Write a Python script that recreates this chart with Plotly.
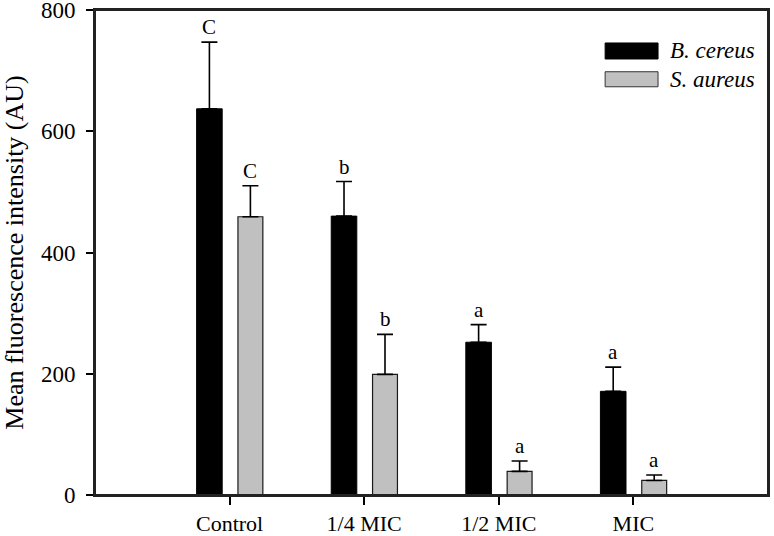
import plotly.graph_objects as go

categories = ["Control", "1/4 MIC", "1/2 MIC", "MIC"]
b_cereus = [637, 460, 252, 171]
b_cereus_err = [110, 57, 29, 40]
s_aureus = [459, 199, 39, 24]
s_aureus_err = [51, 66, 17, 9]
b_letters = ["C", "b", "a", "a"]
s_letters = ["C", "b", "a", "a"]
series_names = ["B. cereus", "S. aureus"]

xpos = list(range(len(categories)))
FONT = "Liberation Serif, Times New Roman, serif"

fig = go.Figure()
fig.add_trace(go.Bar(
    x=xpos, y=b_cereus, name=series_names[0], width=0.19, offset=-0.245,
    marker=dict(color="black", line=dict(color="black", width=1)),
    error_y=dict(type="data", array=b_cereus_err, symmetric=False,
                 arrayminus=[0] * 4, color="black", thickness=1.6, width=8),
    showlegend=False,
))
fig.add_trace(go.Bar(
    x=xpos, y=s_aureus, name=series_names[1], width=0.185, offset=0.062,
    marker=dict(color="#c0c0c0", line=dict(color="#1a1a1a", width=1.2)),
    error_y=dict(type="data", array=s_aureus_err, symmetric=False,
                 arrayminus=[0] * 4, color="black", thickness=1.6, width=8),
    showlegend=False,
))

annotations = []
for i in range(len(categories)):
    annotations.append(dict(x=i - 0.245 + 0.095, y=b_cereus[i] + b_cereus_err[i], text=b_letters[i],
                            showarrow=False, yanchor="bottom", yshift=1,
                            font=dict(family=FONT, size=21, color="black")))
    annotations.append(dict(x=i + 0.062 + 0.0925, y=s_aureus[i] + s_aureus_err[i], text=s_letters[i],
                            showarrow=False, yanchor="bottom", yshift=1,
                            font=dict(family=FONT, size=21, color="black")))

# manual legend
annotations.append(dict(xref="paper", yref="paper", x=0.851, y=0.9155, xanchor="left", yanchor="middle",
                        text="<i>" + series_names[0] + "</i>", showarrow=False,
                        font=dict(family=FONT, size=23, color="black")))
annotations.append(dict(xref="paper", yref="paper", x=0.851, y=0.857, xanchor="left", yanchor="middle",
                        text="<i>" + series_names[1] + "</i>", showarrow=False,
                        font=dict(family=FONT, size=23, color="black")))
shapes = [
    dict(type="rect", xref="paper", yref="paper", x0=0.758, x1=0.8366, y0=0.899, y1=0.932,
         fillcolor="black", line=dict(color="black", width=1)),
    dict(type="rect", xref="paper", yref="paper", x0=0.758, x1=0.8366, y0=0.8417, y1=0.8727,
         fillcolor="#c0c0c0", line=dict(color="#333333", width=1)),
    # plot frame
    dict(type="rect", xref="paper", yref="paper", x0=0, x1=1, y0=0, y1=1,
         line=dict(color="#222222", width=2), fillcolor="rgba(0,0,0,0)", layer="above"),
]

fig.update_layout(
    width=774, height=536,
    margin=dict(l=95, r=6, t=10, b=41),
    plot_bgcolor="white", paper_bgcolor="white",
    barmode="overlay",
    font=dict(family=FONT, size=23, color="black"),
    annotations=annotations, shapes=shapes,
    xaxis=dict(range=[-1, 4], tickmode="array", tickvals=xpos, ticktext=categories,
               ticks="outside", ticklen=8, tickwidth=1.5, tickcolor="black",
               showline=True, linecolor="#222222", linewidth=2, mirror=True,
               showgrid=False, zeroline=False, tickfont=dict(size=22),
               automargin=False, ticklabelstandoff=0, ticklabeloverflow="allow"),
    yaxis=dict(range=[0, 800], tickvals=[0, 200, 400, 600, 800],
               ticks="outside", ticklen=7, tickwidth=1.5, tickcolor="black",
               showline=True, linecolor="#222222", linewidth=2, mirror=True,
               showgrid=False, zeroline=False, tickfont=dict(size=23),
               automargin=False, ticklabelstandoff=6, ticklabeloverflow="allow",
               title=dict(text="Mean fluorescence intensity (AU)", font=dict(size=26), standoff=11)),
)

fig.write_html("out.html", config={"displayModeBar": False},
               post_script="document.body.style.margin='0';document.body.style.padding='0';")
